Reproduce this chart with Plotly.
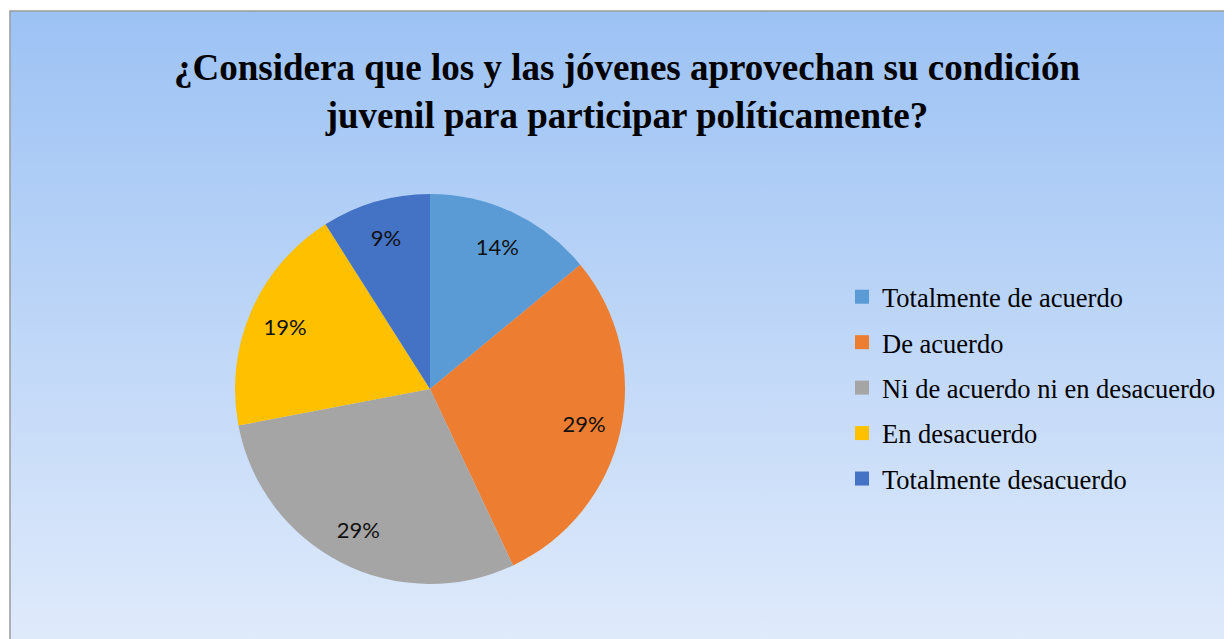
import base64
import plotly.graph_objects as go

# datos
categorias = ['Totalmente de acuerdo', 'De acuerdo', 'Ni de acuerdo ni en desacuerdo',
              'En desacuerdo', 'Totalmente desacuerdo']
porcentajes = [14, 29, 29, 19, 9]
colores = ['#5B9BD5', '#ED7D31', '#A5A5A5', '#FFC000', '#4472C4']

# la pagina tiene 8 px de margen en el body
W, H = 1224, 631
OFF = 8

# fondo degradado (como en Excel)
svg = ('<svg xmlns="http://www.w3.org/2000/svg" width="1222" height="628" '
       'viewBox="0 0 1 1" preserveAspectRatio="none">'
       '<defs><linearGradient id="g" x1="0" y1="0" x2="0" y2="1">'
       '<stop offset="0" stop-color="#9CC2F4"/>'
       '<stop offset="1" stop-color="#DFEAFB"/>'
       '</linearGradient></defs><rect width="1" height="1" fill="url(#g)"/></svg>')
fondo = 'data:image/svg+xml;base64,' + base64.b64encode(svg.encode()).decode()

fig = go.Figure()

# centro aprox. (430, 389) en la captura, radio 195 px
cx, cy, r = 430 - OFF, 389 - OFF, 195
dominio = dict(x=[(cx - r) / W, (cx + r) / W], y=[1 - (cy + r) / H, 1 - (cy - r) / H])

fig.add_trace(go.Pie(
    labels=categorias,
    values=porcentajes,
    sort=False,
    direction='clockwise',
    rotation=0,
    marker=dict(colors=colores, line=dict(width=0)),
    textinfo='none',
    showlegend=False,
    domain=dominio,
))

# anillo transparente solo para las etiquetas
fig.add_trace(go.Pie(
    labels=categorias,
    values=porcentajes,
    sort=False,
    direction='clockwise',
    hole=0.62,
    marker=dict(colors=['rgba(0,0,0,0)'] * len(categorias), line=dict(width=0)),
    texttemplate='%{percent:.0%}',
    textposition='inside',
    insidetextorientation='horizontal',
    textfont=dict(family='Lato, Open Sans, sans-serif', size=22, color='#111111'),
    showlegend=False,
    hoverinfo='skip',
    domain=dominio,
))

# leyenda con marcadores cuadrados
for nombre, color in zip(categorias, colores):
    fig.add_trace(go.Scatter(
        x=[None], y=[None], mode='markers', name=nombre,
        legendgroup=nombre,
        marker=dict(symbol='square', size=14, color=color),
    ))

serif = 'Liberation Serif, Times New Roman, serif'

fig.update_layout(
    width=W, height=H,
    margin=dict(l=0, r=0, t=0, b=0),
    paper_bgcolor='white',
    plot_bgcolor='rgba(0,0,0,0)',
    xaxis=dict(visible=False),
    yaxis=dict(visible=False),
    title=dict(
        text='<b>¿Considera que los y las jóvenes aprovechan su condición<br>juvenil para participar políticamente?</b>',
        x=(627 - OFF) / W, xanchor='center',
        y=1 - (80 - OFF) / H, yanchor='middle',
        font=dict(family=serif, size=37, color='black'),
    ),
    legend=dict(
        x=834 / W, xanchor='left',
        y=1 - (388 - OFF) / H, yanchor='middle',
        bgcolor='rgba(0,0,0,0)',
        font=dict(family=serif, size=26.5, color='black'),
        tracegroupgap=8,
    ),
    images=[dict(
        source=fondo, xref='paper', yref='paper',
        x=(10 - OFF) / W, y=1 - (11 - OFF) / H,
        sizex=1 - (10 - OFF) / W, sizey=1 - (11 - OFF) / H,
        xanchor='left', yanchor='top', sizing='stretch', layer='below',
    )],
    # solo borde izquierdo y superior visibles, el resto queda fuera
    shapes=[dict(
        type='rect', xref='paper', yref='paper',
        x0=(10 - OFF) / W, x1=1.05, y0=-0.05, y1=1 - (11 - OFF) / H,
        line=dict(color='#9A9A9A', width=1.5), fillcolor='rgba(0,0,0,0)',
    )],
)

fig.write_html('out.html')
